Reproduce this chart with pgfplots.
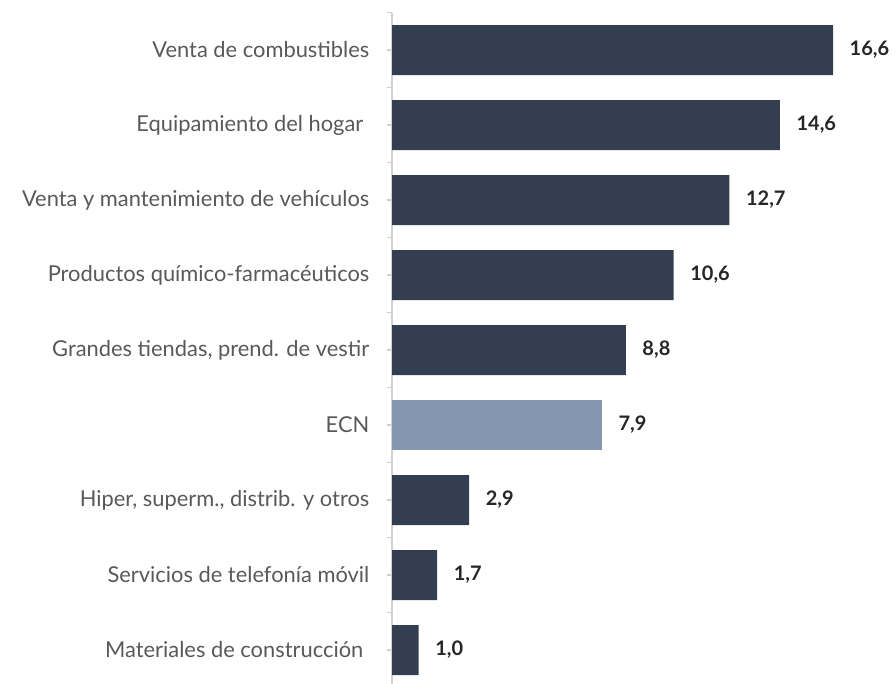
\documentclass[border=0pt]{standalone}
\usepackage{pgfplots}
\pgfplotsset{compat=1.18}
\usepackage{fontspec}
\setmainfont{Lato}
\definecolor{barcol}{HTML}{333F50}
\definecolor{ecncol}{HTML}{8497B0}
\definecolor{txtcol}{HTML}{595959}
\definecolor{valcol}{HTML}{262626}
\definecolor{axcol}{HTML}{D0D0D0}
\begin{document}
\begin{tikzpicture}
\path[use as bounding box] (0pt,0pt) rectangle (672pt,-513pt);
\begin{axis}[
  at={(294pt,-9.375pt)}, anchor=north west,
  scale only axis,
  width=330.75pt, height=506.25pt,
  xbar, bar width=37.5pt, bar shift=0pt,
  xmin=0, xmax=16.6,
  ymin=0.5, ymax=9.5, y dir=reverse,
  axis x line=none,
  axis y line*=left,
  y axis line style={axcol, line width=1pt},
  ytick={1,...,9},
  minor ytick={0.5,1.5,...,9.5},
  yticklabels={Venta de combustibles,
    Equipamiento del hogar\kern4.5pt,
    Venta y mantenimiento de vehículos,
    Productos químico-farmacéuticos,
    {Grandes tiendas, prend. de vestir},
    ECN,
    {Hiper, superm., distrib. y otros},
    Servicios de telefonía móvil,
    Materiales de construcción\kern4.5pt},
  tick pos=left, tick align=outside,
  major tick length=4pt, minor tick length=4pt,
  tick style={axcol, line width=1pt},
  yticklabel style={font=\fontsize{16.4}{19}\selectfont, text=txtcol, xshift=-9.5pt},
  clip=false,
  point meta=x,
  /pgf/number format/assume math mode=true,
  nodes near coords={\pgfmathprintnumber[fixed,fixed zerofill,precision=1,use comma,assume math mode=true]{\pgfplotspointmeta}},
  nodes near coords style={font=\bfseries\fontsize{15}{18}\selectfont, text=valcol, anchor=west, xshift=9pt},
]
\addplot[fill=barcol, draw=none] coordinates {
  (16.6,1) (14.6,2) (12.7,3) (10.6,4) (8.8,5) (2.9,7) (1.7,8) (1.0,9)
};
\addplot[fill=ecncol, draw=none] coordinates {(7.9,6)};
\end{axis}
\end{tikzpicture}
\end{document}
